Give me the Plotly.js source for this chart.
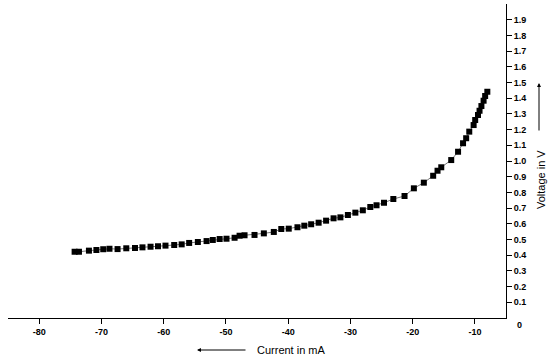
<!DOCTYPE html>
<html>
<head>
<meta charset="utf-8">
<script src="https://cdn.plot.ly/plotly-3.0.1.min.js"></script>
<style>html,body{margin:0;padding:0;background:#fff;}#chart{width:550px;height:361px;}</style>
</head>
<body>
<div id="chart"></div>
<script>
// Current in mA
var current = [-74.3, -73.6, -72.0, -70.8, -69.7, -68.7, -67.4, -66.0, -64.6, -63.4, -62.1, -60.9, -59.7, -58.3, -57.1, -55.9, -54.5, -53.1, -52.1, -51.0, -49.9, -48.6, -47.8, -47.0, -45.4, -43.9, -42.3, -41.1, -39.9, -38.5, -37.4, -36.3, -35.1, -33.9, -32.7, -31.6, -30.4, -29.2, -28.0, -26.8, -25.8, -24.6, -23.1, -21.3, -19.8, -18.2, -16.7, -16.0, -15.4, -13.8, -12.7, -11.9, -11.4, -10.9, -10.2, -9.95, -9.5, -9.25, -8.95, -8.6, -8.35, -8.0];
// Voltage in V
var voltage = [0.422, 0.422, 0.429, 0.433, 0.438, 0.441, 0.439, 0.444, 0.446, 0.450, 0.454, 0.457, 0.461, 0.465, 0.469, 0.478, 0.484, 0.490, 0.497, 0.503, 0.505, 0.511, 0.524, 0.527, 0.529, 0.539, 0.548, 0.567, 0.569, 0.578, 0.588, 0.597, 0.607, 0.620, 0.635, 0.641, 0.656, 0.671, 0.686, 0.707, 0.718, 0.734, 0.758, 0.777, 0.826, 0.862, 0.906, 0.938, 0.960, 1.006, 1.059, 1.113, 1.145, 1.187, 1.229, 1.261, 1.293, 1.320, 1.350, 1.384, 1.414, 1.441];
var xTicks = [-80, -70, -60, -50, -40, -30, -20, -10];
var xTickText = ['-80', '-70', '-60', '-50', '-40', '-30', '-20', '-10'];
var yTicks = [0.1, 0.2, 0.3, 0.4, 0.5, 0.6, 0.7, 0.8, 0.9, 1.0, 1.1, 1.2, 1.3, 1.4, 1.5, 1.6, 1.7, 1.8, 1.9];
var yTickText = ['0.1', '0.2', '0.3', '0.4', '0.5', '0.6', '0.7', '0.8', '0.9', '1.0', '1.1', '1.2', '1.3', '1.4', '1.5', '1.6', '1.7', '1.8', '1.9'];

var FONT = 'Liberation Sans, Arial, sans-serif';
var trace = {
  x: current, y: voltage, type: 'scatter', mode: 'lines+markers',
  line: {color: '#777', width: 1},
  marker: {symbol: 'square', size: 6, color: '#000'},
  showlegend: false, hoverinfo: 'skip'
};
var xr = [-85, -5], yr = [0, 2.0];
var layout = {
  width: 550, height: 361,
  margin: {l: 8, r: 44, t: 4, b: 43},
  paper_bgcolor: '#fff', plot_bgcolor: '#fff',
  showlegend: false,
  xaxis: {range: xr, tickvals: xTicks, ticktext: xTickText, ticks: 'outside', ticklen: 5, tickcolor: '#000', tickwidth: 1,
          showline: true, linecolor: '#000', linewidth: 1, showgrid: false, zeroline: false,
          tickfont: {family: FONT, size: 9, color: '#000', weight: 'bold'}, fixedrange: true},
  xaxis2: {range: xr, overlaying: 'x', anchor: 'y', side: 'bottom', tickvals: xTicks, ticks: 'inside', ticklen: 5,
           tickcolor: '#000', showticklabels: false, showgrid: false, zeroline: false, showline: false},
  yaxis: {range: yr, side: 'right', tickvals: yTicks, ticktext: yTickText, ticks: 'outside', ticklen: 5,
          tickcolor: '#000', tickwidth: 1, showline: true, linecolor: '#000', linewidth: 1, showgrid: false,
          zeroline: false, tickfont: {family: FONT, size: 9, color: '#000', weight: 'bold'}, fixedrange: true},
  yaxis2: {range: yr, overlaying: 'y', anchor: 'x', side: 'right', tickvals: yTicks, ticks: 'inside', ticklen: 5,
           tickcolor: '#000', showticklabels: false, showgrid: false, zeroline: false, showline: false},
  annotations: [
    {text: '0', xref: 'paper', yref: 'paper', x: (519 - 8) / 498, y: (318 - 325) / 314, showarrow: false,
     font: {family: FONT, size: 9, color: '#000', weight: 'bold'}, xanchor: 'center', yanchor: 'middle'},
    {text: 'Current in mA', xref: 'paper', yref: 'paper', x: (291 - 8) / 498, y: (318 - 350) / 314, showarrow: false,
     font: {family: FONT, size: 11, color: '#000'}, xanchor: 'center', yanchor: 'middle'},
    {text: '', xref: 'paper', yref: 'paper', x: (197 - 8) / 498, y: (318 - 350) / 314, showarrow: true,
     ax: 50, ay: 0, arrowhead: 2, arrowsize: 0.8, arrowwidth: 1, arrowcolor: '#000'},
    {text: 'Voltage in V', xref: 'paper', yref: 'paper', x: (541 - 8) / 498, y: (318 - 180) / 314, showarrow: false,
     textangle: -90, font: {family: FONT, size: 11, color: '#000'}, xanchor: 'center', yanchor: 'middle'},
    {text: '', xref: 'paper', yref: 'paper', x: (539 - 8) / 498, y: (318 - 83) / 314, showarrow: true,
     ax: 0, ay: 49, arrowhead: 2, arrowsize: 0.8, arrowwidth: 1, arrowcolor: '#000'}
  ]
};
Plotly.newPlot('chart', [trace], layout, {staticPlot: true, displayModeBar: false});
</script>
</body>
</html>
